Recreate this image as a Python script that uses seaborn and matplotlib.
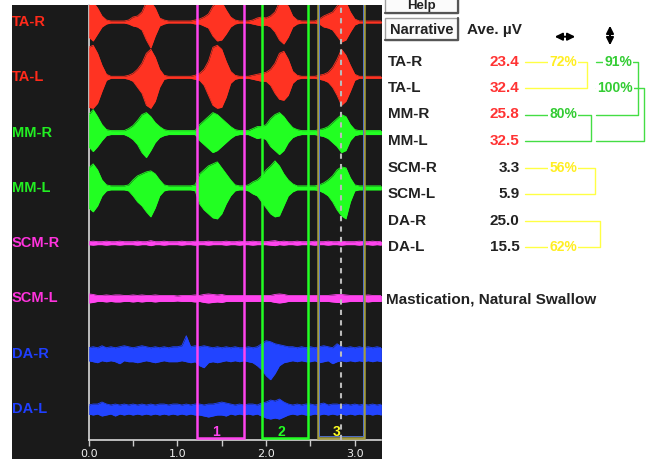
import numpy as np
import matplotlib
matplotlib.use("Agg")
import matplotlib.pyplot as plt
import matplotlib.transforms as mtransforms
from matplotlib.patches import Rectangle, FancyArrowPatch
from matplotlib.lines import Line2D
import seaborn as sns

# ---------------- data ----------------
channels = ["TA-R", "TA-L", "MM-R", "MM-L", "SCM-R", "SCM-L", "DA-R", "DA-L"]
sample_step = 0.05  # seconds between envelope samples

# EMG envelope (pixel amplitude above / below baseline), 0.00..3.30 s
ta_r_up = [20, 20, 14, 6, 2, 1, 1, 1, 1, 2,
           5, 6, 10, 20, 20, 14, 4, 2, 1, 1,
           1, 1, 1, 1, 2, 3, 5, 8, 16, 20,
           20, 12, 5, 2, 1, 1, 1, 2, 4, 5,
           4, 6, 10, 20, 20, 16, 6, 2, 1, 1,
           1, 1, 3, 6, 8, 10, 16, 20, 20, 10,
           3, 1, 1, 1, 1, 1, 1]
ta_r_dn = [15, 19, 12, 5, 2, 1, 1, 1, 1, 2,
           4, 5, 8, 18, 26, 14, 4, 2, 1, 1,
           1, 1, 1, 1, 2, 2, 4, 6, 14, 19,
           18, 12, 5, 2, 1, 1, 1, 2, 3, 4,
           3, 5, 10, 18, 22, 15, 5, 2, 1, 1,
           1, 1, 2, 5, 6, 8, 14, 20, 18, 10,
           3, 1, 1, 1, 1, 1, 1]
ta_l_up = [30, 32, 24, 12, 3, 1, 1, 1, 1, 2,
           4, 8, 14, 24, 28, 20, 8, 2, 1, 1,
           1, 1, 1, 1, 2, 4, 8, 16, 30, 32,
           28, 16, 6, 2, 1, 1, 1, 2, 3, 4,
           5, 8, 14, 24, 26, 18, 6, 2, 1, 1,
           1, 1, 2, 3, 5, 10, 18, 28, 22, 12,
           3, 1, 1, 1, 1, 1, 1]
ta_l_dn = [30, 31, 26, 14, 3, 1, 1, 1, 1, 2,
           4, 10, 16, 28, 31, 24, 10, 2, 1, 1,
           1, 1, 1, 1, 2, 3, 8, 18, 28, 31,
           30, 20, 6, 2, 1, 1, 1, 2, 3, 4,
           4, 8, 16, 22, 23, 18, 6, 2, 1, 1,
           1, 1, 2, 3, 5, 10, 18, 28, 24, 14,
           3, 1, 1, 1, 1, 1, 1]
mm_r_up = [18, 23, 16, 8, 3, 2, 2, 2, 2, 4,
           7, 12, 18, 20, 16, 10, 6, 3, 2, 2,
           2, 2, 2, 2, 2, 8, 12, 16, 20, 18,
           14, 10, 6, 3, 2, 2, 2, 4, 6, 6,
           8, 14, 18, 20, 16, 10, 5, 3, 2, 2,
           2, 2, 3, 4, 6, 10, 14, 18, 16, 8,
           3, 2, 2, 2, 2, 2, 2]
mm_r_dn = [14, 19, 14, 8, 3, 2, 2, 2, 2, 4,
           7, 12, 20, 25, 18, 10, 5, 3, 2, 2,
           2, 2, 2, 2, 2, 8, 12, 16, 20, 18,
           14, 10, 6, 3, 2, 2, 2, 4, 6, 5,
           7, 14, 18, 22, 18, 10, 5, 3, 2, 2,
           2, 2, 3, 4, 6, 10, 14, 20, 18, 8,
           3, 2, 2, 2, 2, 2, 2]
mm_l_up = [20, 24, 18, 8, 3, 2, 2, 2, 2, 3,
           8, 12, 14, 16, 17, 14, 8, 3, 2, 2,
           2, 2, 2, 2, 3, 14, 18, 22, 24, 26,
           20, 14, 8, 3, 2, 2, 3, 6, 8, 12,
           18, 22, 27, 22, 14, 8, 4, 2, 2, 2,
           2, 2, 3, 5, 8, 12, 18, 21, 20, 10,
           3, 2, 2, 2, 2, 2, 2]
mm_l_dn = [20, 24, 18, 8, 3, 2, 2, 2, 2, 3,
           8, 14, 18, 24, 29, 20, 8, 3, 2, 2,
           2, 2, 2, 2, 3, 16, 22, 26, 30, 31,
           26, 16, 8, 3, 2, 2, 3, 6, 8, 14,
           20, 26, 29, 28, 18, 8, 4, 2, 2, 2,
           2, 2, 3, 5, 8, 14, 22, 28, 31, 14,
           3, 2, 2, 2, 2, 2, 2]
scm_r_amp = [1.5, 2, 1.5, 1.5, 2, 1.5, 1.5, 2, 1.5, 1.5,
             1.5, 2, 1.5, 1.5, 2.5, 1.5, 1.5, 2, 1.5, 1.5,
             1.5, 2, 1.5, 1.5, 2, 1.5, 1.5, 2, 1.5, 1.5,
             1.5, 2, 1.5, 1.5, 2, 1.5, 1.5, 2, 1.5, 1.5,
             1.5, 2, 2.5, 1.5, 2, 1.5, 1.5, 2, 1.5, 1.5,
             1.5, 2, 1.5, 1.5, 2, 1.5, 1.5, 2, 1.5, 1.5,
             1.5, 2, 1.5, 1.5, 2, 1.5, 2]
scm_l_amp = [4.5, 4, 3, 3, 3.5, 3, 3.5, 3.5, 3, 3,
             3.5, 3, 3.5, 3, 3, 3.5, 3, 3, 3, 3,
             2.5, 3, 3, 3, 3.5, 3, 4, 4.5, 4, 3.5,
             4, 3, 3, 3, 3, 3, 3, 3, 3, 3,
             3, 3, 4, 4.5, 4, 3, 3, 3, 3, 3,
             3, 3, 3, 3, 3, 3.5, 4, 4, 3.5, 3,
             3, 3, 3, 3.5, 3, 3, 3]
da_r_up = [6, 7, 6, 8, 6, 7, 6, 7, 8, 7,
           6, 7, 8, 7, 6, 7, 6, 7, 6, 7,
           7, 8, 18, 7, 8, 7, 8, 7, 6, 7,
           6, 7, 6, 7, 6, 6, 7, 6, 7, 10,
           13, 12, 10, 9, 8, 7, 7, 6, 7, 6,
           7, 6, 7, 8, 7, 6, 10, 7, 6, 7,
           6, 7, 6, 7, 6, 7, 6]
da_r_dn = [7, 8, 9, 7, 8, 7, 8, 10, 7, 8,
           8, 9, 8, 7, 8, 9, 8, 7, 8, 8,
           8, 7, 8, 9, 8, 12, 14, 9, 8, 9,
           8, 7, 8, 7, 8, 7, 8, 9, 12, 16,
           22, 26, 20, 12, 9, 8, 7, 8, 7, 8,
           8, 7, 9, 8, 7, 10, 8, 7, 8, 7,
           8, 7, 8, 7, 8, 7, 8]
da_l_up = [4, 5, 5, 7, 5, 4, 5, 4, 5, 4,
           5, 4, 5, 4, 5, 4, 5, 5, 4, 5,
           5, 4, 5, 4, 5, 5, 4, 5, 5, 6,
           7, 6, 5, 4, 5, 4, 5, 5, 4, 6,
           7, 9, 8, 10, 7, 5, 4, 5, 4, 5,
           5, 4, 5, 6, 4, 5, 5, 4, 5, 4,
           5, 4, 5, 4, 5, 4, 5]
da_l_dn = [5, 6, 5, 7, 6, 5, 7, 5, 6, 5,
           6, 5, 6, 5, 6, 5, 6, 5, 6, 5,
           6, 5, 6, 5, 6, 6, 7, 8, 7, 6,
           6, 7, 5, 6, 5, 6, 5, 6, 5, 7,
           9, 10, 9, 10, 8, 6, 5, 6, 5, 6,
           6, 5, 6, 5, 6, 5, 6, 5, 6, 5,
           6, 5, 6, 5, 6, 5, 6]

ave_uv = [23.4, 32.4, 25.8, 32.5, 3.3, 5.9, 25.0, 15.5]
lateral_pct = ["72%", "80%", "56%", "62%"]     # R/L pairs
vertical_pct = ["91%", "100%"]                 # TA vs MM per side

window_start = [1.22, 1.95, 2.58]
window_end = [1.75, 2.476, 3.107]
window_labels = ["1", "2", "3"]
marker_time = 2.85
xtick_major = [0.0, 1.0, 2.0, 3.0]
xtick_labels = ["0.0", "1.0", "2.0", "3.0"]
xtick_minor = [0.5, 1.5, 2.5]

# ---------------- style ----------------
sns.set_theme(style="dark")
plt.rcParams["font.family"] = ["Liberation Sans", "DejaVu Sans"]

W, H = 652, 459
def fx(x):
    return x / W
def fy(y):
    return 1 - y / H

DARK = "#1a1a1a"
RED = "#ff3322"
GREEN = "#22ff22"
MAG = "#ff44ee"
BLUE = "#2244ff"
sig_colors = [RED, RED, GREEN, GREEN, MAG, MAG, BLUE, BLUE]
lab_colors = ["#ff2a1a", "#ff2a1a", "#22ee22", "#22ee22", "#ff33dd", "#ff33dd", "#1f3fff", "#1f3fff"]

fig = plt.figure(figsize=(W / 100, H / 100), dpi=100)
fig.patch.set_facecolor("white")
fig.patches.append(Rectangle((fx(12), 0), fx(382) - fx(12), fy(5), transform=fig.transFigure,
                             facecolor=DARK, edgecolor="none", zorder=-5))

ax = fig.add_axes([fx(88.7), fy(440), fx(381) - fx(88.7), (440 - 5) / H])
ax.set_zorder(1)
ax.set_facecolor(DARK)
PX_ROW = 55.29
ax.set_xlim(0, (381 - 88.7) / 88.7)
ax.set_ylim((440 - 22) / PX_ROW, (5 - 22) / PX_ROW)

ups = [ta_r_up, ta_l_up, mm_r_up, mm_l_up, scm_r_amp, scm_l_amp, da_r_up, da_l_up]
dns = [ta_r_dn, ta_l_dn, mm_r_dn, mm_l_dn, scm_r_amp, scm_l_amp, da_r_dn, da_l_dn]
T = np.round(np.arange(len(ta_r_up)) * sample_step, 2)

for k in range(len(channels)):
    up = np.asarray(ups[k], float) / PX_ROW
    dn = np.asarray(dns[k], float) / PX_ROW
    col = sig_colors[k]
    ax.fill_between(T, k - up, k + dn, color=col, lw=0, zorder=3)
    sns.lineplot(x=T, y=k - up, ax=ax, color=col, lw=0.6, zorder=3, legend=False)
    sns.lineplot(x=T, y=k + dn, ax=ax, color=col, lw=0.6, zorder=3, legend=False)

# analysis windows
box_bottom = (437.7 - 22) / PX_ROW
win_cols = [MAG, GREEN, "#a39c40"]
lab_cols = [MAG, GREEN, "#ffff22"]
for s, e, lab, c, lc in zip(window_start, window_end, window_labels, win_cols, lab_cols):
    ax.add_patch(Rectangle((s, -1), e - s, box_bottom + 1, fill=False, edgecolor=c, lw=1.8, zorder=5))
    ax.text((s + e) / 2 - 0.045, (432 - 22) / PX_ROW, lab, color=lc, fontsize=10, fontweight="bold",
            ha="center", va="center", zorder=6)
# inner blue trace of third window
s, e = window_start[2], window_end[2]
ax.add_patch(Rectangle((s + 0.012, -1), e - s - 0.024, box_bottom + 1 - 0.03, fill=False,
                       edgecolor="#5070c8", lw=0.7, zorder=5))
ax.axvline(marker_time, color="#bbbbbb", lw=1.5, ls=(0, (2.5, 2.5)), zorder=6)

# axes styling
for sp in ["top", "right"]:
    ax.spines[sp].set_visible(False)
for sp in ["left", "bottom"]:
    ax.spines[sp].set_visible(True)
    ax.spines[sp].set_color("#d8d8d8")
    ax.spines[sp].set_linewidth(1.2)
ax.set_xticks(xtick_major)
ax.set_xticklabels(xtick_labels)
ax.set_xticks(xtick_minor, minor=True)
ax.tick_params(axis="x", which="both", direction="out", length=4, width=1, color="#cccccc",
               labelcolor="#eeeeee", labelsize=8, pad=2.5, bottom=True)
for t in ax.get_xticklabels():
    t.set_family(["DejaVu Sans"])
ax.set_yticks([])
ax.grid(False)

# channel labels on the dark strip
tr = mtransforms.blended_transform_factory(fig.transFigure, ax.transData)
for k, name in enumerate(channels):
    ax.text(fx(12), k, name, transform=tr, color=lab_colors[k], fontsize=10.5, fontweight="bold",
            ha="left", va="center", clip_on=False)

# ---------------- right panel ----------------
INK = "#222222"
def btn(x0, y0, x1, y1, label, ty, fs):
    fig.patches.append(Rectangle((fx(x0), fy(y1)), fx(x1) - fx(x0), (y1 - y0) / H, transform=fig.transFigure,
                                 facecolor="#fbfbfb", edgecolor="#a0a0a0", lw=1.0))
    fig.add_artist(Line2D([fx(x0), fx(x1), fx(x1)], [fy(y1), fy(y1), fy(y0)], transform=fig.transFigure,
                          color="#555555", lw=1.6))
    fig.text(fx((x0 + x1) / 2), fy(ty), label, ha="center", va="center", fontsize=fs,
             fontweight="bold", color=INK)

btn(385, -10, 458, 13.3, "Help", 6.5, 9.5)
btn(385, 18.3, 458, 40, "Narrative", 29.5, 10.5)
fig.text(fx(467), fy(30), "Ave. \u00b5V", ha="left", va="center", fontsize=11, fontweight="bold", color=INK)

fig.patches.append(FancyArrowPatch((fx(552), fy(36.7)), (fx(578), fy(36.7)), transform=fig.transFigure,
                                   arrowstyle="<|-|>", mutation_scale=11, lw=1.4, color="black"))
fig.patches.append(FancyArrowPatch((fx(610), fy(23)), (fx(610), fy(48)), transform=fig.transFigure,
                                   arrowstyle="<|-|>", mutation_scale=11, lw=1.4, color="black"))

row_y = [61.5 + 26.5 * i for i in range(8)]
val_colors = ["#ff3333"] * 4 + [INK] * 4
for i, name in enumerate(channels):
    fig.text(fx(388), fy(row_y[i]), name, ha="left", va="center", fontsize=11, fontweight="bold", color=INK)
    fig.text(fx(519.5), fy(row_y[i]), f"{ave_uv[i]:.1f}", ha="right", va="center", fontsize=11,
             fontweight="bold", color=val_colors[i])

YEL_L, YEL_T = "#ffff44", "#ffee22"
GRN_L, GRN_T = "#44dd44", "#33cc33"

def bracket(r0, r1, xa, xb, txt, trow, tx, lc, tc):
    fig.add_artist(Line2D([fx(xa), fx(xb), fx(xb), fx(xa)],
                          [fy(row_y[r0]), fy(row_y[r0]), fy(row_y[r1]), fy(row_y[r1])],
                          transform=fig.transFigure, color=lc, lw=1.0, zorder=2))
    fig.text(fx(tx), fy(row_y[trow]), txt, ha="center", va="center", fontsize=10, fontweight="bold",
             color=tc, zorder=3, bbox=dict(boxstyle="square,pad=0.05", fc="white", ec="none"))

bracket(0, 1, 525, 587, lateral_pct[0], 0, 563, YEL_L, YEL_T)
bracket(2, 3, 525, 591, lateral_pct[1], 2, 563, GRN_L, GRN_T)
bracket(4, 5, 525, 595, lateral_pct[2], 4, 563, YEL_L, YEL_T)
bracket(6, 7, 525, 600, lateral_pct[3], 7, 563, YEL_L, YEL_T)
bracket(0, 2, 596, 638.3, vertical_pct[0], 0, 618, GRN_L, GRN_T)
bracket(1, 3, 596, 644.3, vertical_pct[1], 1, 615, GRN_L, GRN_T)

fig.text(fx(386), fy(299), "Mastication, Natural Swallow", ha="left", va="center", fontsize=11,
         fontweight="bold", color=INK)

fig.savefig("out.png", dpi=100, facecolor="white")
